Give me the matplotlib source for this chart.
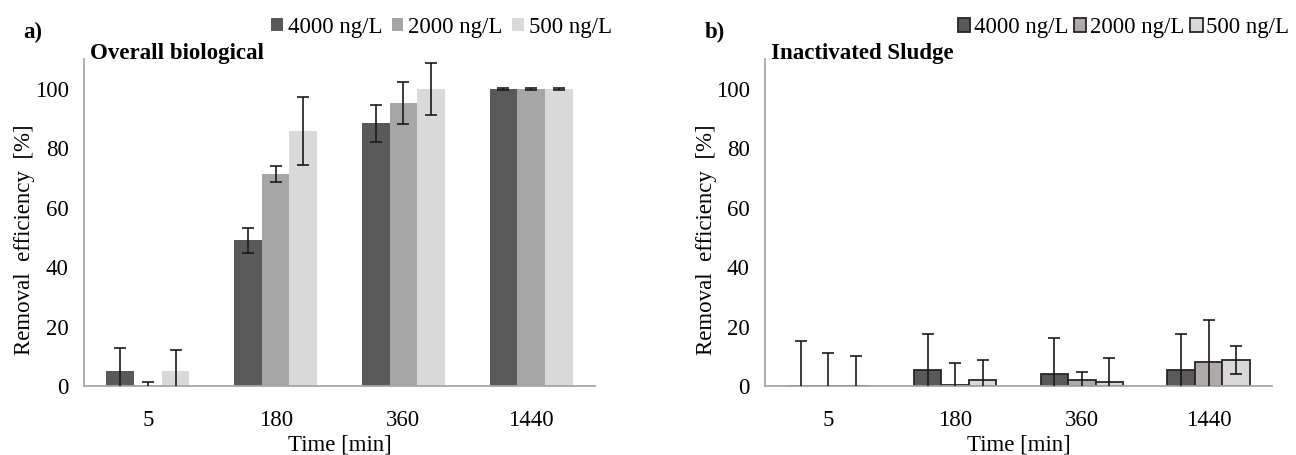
import matplotlib
matplotlib.use("Agg")
import matplotlib.pyplot as plt
import numpy as np

plt.rcParams["font.family"] = ["Liberation Serif", "DejaVu Serif"]

# Sampling times and concentration series
times = ["5", "180", "360", "1440"]
series_labels = ["4000 ng/L", "2000 ng/L", "500 ng/L"]

# a) overall biological removal [%]
overall_4000 = [5.1, 49.1, 88.4, 100.0]
overall_2000 = [0.3, 71.4, 95.2, 100.0]
overall_500 = [5.1, 85.7, 99.8, 100.0]
overall_4000_err = [7.8, 4.2, 6.2, 0.3]
overall_2000_err = [1.2, 2.7, 7.2, 0.3]
overall_500_err = [7.1, 11.5, 8.8, 0.3]

# b) inactivated sludge removal [%]
inact_4000 = [0.0, 5.4, 4.0, 5.4]
inact_2000 = [0.0, 0.5, 2.0, 8.1]
inact_500 = [0.0, 2.0, 1.3, 8.8]
inact_4000_err = [15.0, 12.2, 12.1, 12.2]
inact_2000_err = [11.0, 7.2, 2.8, 14.2]
inact_500_err = [10.2, 6.8, 8.0, 4.7]

colors_a = ["#595959", "#a6a6a6", "#d9d9d9"]
colors_b = ["#595959", "#aeaaaa", "#d9d9d9"]
axis_gray = "#a6a6a6"
FS = 16.5

fig = plt.figure(figsize=(12.96, 4.55), dpi=100)
ax_a = fig.add_axes([0.0648, 0.1516, 0.3943, 0.7187])
ax_b = fig.add_axes([0.5903, 0.1516, 0.3912, 0.7187])

x = np.arange(len(times))
width = 0.217


def draw_panel(ax, values, errors, colors, edge):
    handles = []
    for i, (vals, errs) in enumerate(zip(values, errors)):
        h = ax.bar(x + (i - 1) * width, vals, width, color=colors[i],
                   edgecolor="#262626" if edge else "none",
                   linewidth=1.3 if edge else 0, label=series_labels[i],
                   zorder=2)
        ax.errorbar(x + (i - 1) * width, vals, yerr=errs, fmt="none",
                    ecolor="#1a1a1a", elinewidth=1.2, capsize=4.5,
                    capthick=1.2, zorder=3)
        handles.append(h)
    ax.set_xlim(-0.5, len(times) - 0.5)
    ax.set_ylim(0, 110)
    ax.set_yticks([0, 20, 40, 60, 80, 100])
    ax.set_xticks(x)
    ax.set_xticklabels(times)
    ax.tick_params(axis="both", length=0, labelsize=FS)
    ax.tick_params(axis="x", pad=17)
    ax.tick_params(axis="y", pad=11)
    for s in ["top", "right"]:
        ax.spines[s].set_visible(False)
    for s in ["left", "bottom"]:
        ax.spines[s].set_color(axis_gray)
        ax.spines[s].set_linewidth(1.3)
    ax.set_xlabel("Time [min]", fontsize=FS, labelpad=3)
    ax.set_ylabel("Removal  efficiency  [%]", fontsize=FS)
    ax.yaxis.set_label_coords(-0.095, 0.447)
    return handles


h_a = draw_panel(ax_a, [overall_4000, overall_2000, overall_500],
                 [overall_4000_err, overall_2000_err, overall_500_err],
                 colors_a, edge=False)
h_b = draw_panel(ax_b, [inact_4000, inact_2000, inact_500],
                 [inact_4000_err, inact_2000_err, inact_500_err],
                 colors_b, edge=True)

ax_a.legend(handles=h_a, loc="center right", bbox_to_anchor=(0.4722, 0.940),
            bbox_transform=fig.transFigure, ncol=3, frameon=False,
            fontsize=FS, handlelength=0.52, handleheight=0.52,
            handletextpad=0.22, columnspacing=0.4, borderaxespad=0,
            borderpad=0)
ax_b.legend(handles=h_b, loc="center right", bbox_to_anchor=(0.9946, 0.940),
            bbox_transform=fig.transFigure, ncol=3, frameon=False,
            fontsize=FS, handlelength=0.55, handleheight=0.55,
            handletextpad=0.15, columnspacing=0.25, borderaxespad=0,
            borderpad=0)

fig.text(23 / 1296, 1 - 32 / 455, "a)", fontsize=FS, fontweight="bold",
         va="center")
fig.text(90 / 1296, 1 - 53 / 455, "Overall biological", fontsize=FS,
         fontweight="bold", va="center")
fig.text(705 / 1296, 1 - 32 / 455, "b)", fontsize=FS, fontweight="bold",
         va="center")
fig.text(771 / 1296, 1 - 53 / 455, "Inactivated Sludge", fontsize=FS,
         fontweight="bold", va="center")

fig.savefig("out.png", dpi=100)
